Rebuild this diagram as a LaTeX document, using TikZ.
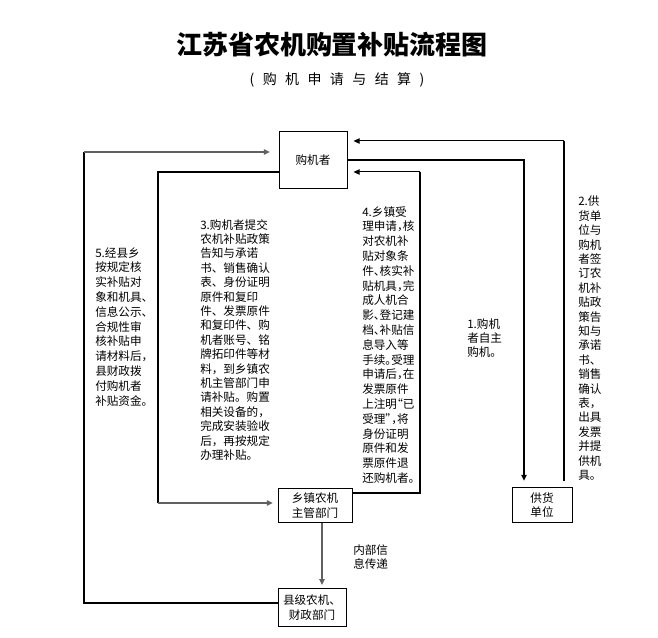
\documentclass[tikz,border=0pt]{standalone}
\usepackage{fontspec}
\usepackage{xcolor}
\usepackage{tikz}
\usetikzlibrary{arrows.meta}
\newfontfamily\cjk{Noto Sans CJK SC}
\newfontfamily\cjkh[RawFeature=+halt]{Noto Sans CJK SC}
\newfontfamily\cjkt[LetterSpace=60]{Noto Sans CJK SC}
\definecolor{linegray}{HTML}{606060}
\tikzset{
  bx/.style={draw,line width=0.75pt,inner sep=0pt,align=center,font=\cjk\fontsize{8.7}{10.9}\selectfont},
  txt/.style={anchor=north west,inner sep=0pt,align=left,font=\cjk\fontsize{8.7}{10.8}\selectfont},
  txh/.style={txt,font=\cjkh\fontsize{8.7}{11.1}\selectfont},
  ln/.style={line width=1.5pt,black},
  lg/.style={line width=1.5pt,linegray,-{Triangle[length=4.5pt,width=4pt]}},
  la/.style={line width=0.75pt,black,-{Triangle[length=4.5pt,width=4pt]}},
  ld/.style={line width=1.5pt,black,-{Triangle[length=4.5pt,width=4pt]}}
}
\begin{document}
\begin{tikzpicture}[x=0.75pt,y=-0.75pt]
\useasboundingbox (0,0) rectangle (658,638);
% titles
\node[font=\cjk\bfseries\fontsize{19.5}{22}\selectfont] (title) at (332,45) {江苏省农机购置补贴流程图};
\node[font=\cjkt\fontsize{10.5}{12}\selectfont] (sub) at (337,80) {(购机申请与结算)};
% boxes
\node[bx,minimum width=51pt,minimum height=43pt] (buyer) at (313,160) {购机者};
\node[bx,minimum width=55.5pt,minimum height=25pt] (town) at (315,505.5) {乡镇农机\\主管部门};
\node[bx,minimum width=51pt,minimum height=29pt] (county) at (312,607.5) {县级农机、\\财政部门};
\node[bx,minimum width=45pt,minimum height=25.5pt] (supp) at (542,505) {供货\\单位};
% corners
\coordinate (p1) at (524,160);
\coordinate (p2) at (564,141);
\coordinate (p3) at (158,172);
\coordinate (p3b) at (158,503);
\coordinate (p4) at (420,493);
\coordinate (p4b) at (420,172);
\coordinate (p5) at (84,603);
\coordinate (p5b) at (84,152);
\coordinate (p6) at (322,0);
% 1
\draw[ld,shorten >=5pt] (buyer.east |- p1) -| (p1 |- supp.north);
% 2
\draw[ln,shorten <=4.5pt] (p2 |- supp.north) -- (p2);
\draw[la,shorten >=4.5pt] (p2) -- (buyer.east |- p2);
% 3
\draw[ln] (buyer.west |- p3) -| (p3b);
\draw[lg,shorten >=3.5pt] (p3b) -- (town.west |- p3b);
% 4
\draw[ln] (town.east |- p4) -| (p4b);
\draw[la,shorten >=4.5pt] (p4b) -- (buyer.east |- p4b);
% 5
\draw[ln] (county.west |- p5) -| (p5b);
\draw[lg,shorten >=6.5pt] (p5b) -- (buyer.west |- p5b);
% internal
\draw[lg,shorten >=2pt] (town.south -| p6) -- (county.north -| p6);
\node[txt] (inner) at (353,544) {内部信\\息传递};
% step texts
\node[txt] (s1) at (467,318) {1.购机\\者自主\\购机。};
\node[txt] (s2) at (578,196) {2.供\\货单\\位与\\购机\\者签\\订农\\机补\\贴政\\策告\\知与\\承诺\\书、\\销售\\确认\\表，\\出具\\发票\\并提\\供机\\具。};
\node[txt] (s3) at (200,219) {3.购机者提交\\农机补贴政策\\告知与承诺\\书、销售确认\\表、身份证明\\原件和复印\\件、发票原件\\和复印件、购\\机者账号、铭\\牌拓印件等材\\料，到乡镇农\\机主管部门申\\请补贴。购置\\相关设备的，\\完成安装验收\\后，再按规定\\办理补贴。};
\node[txh] (s4) at (362,206) {4.乡镇受\\理申请，核\\对农机补\\贴对象条\\件、核实补\\贴机具，完\\成人机合\\影、登记建\\档、补贴信\\息导入等\\手续。受理\\申请后，在\\发票原件\\上注明“已\\受理”，将\\身份证明\\原件和发\\票原件退\\还购机者。};
\node[txt,font=\cjk\fontsize{8.7}{11.1}\selectfont] (s5) at (95,247) {5.经县乡\\按规定核\\实补贴对\\象和机具、\\信息公示、\\合规性审\\核补贴申\\请材料后，\\县财政拨\\付购机者\\补贴资金。};
\end{tikzpicture}
\end{document}
